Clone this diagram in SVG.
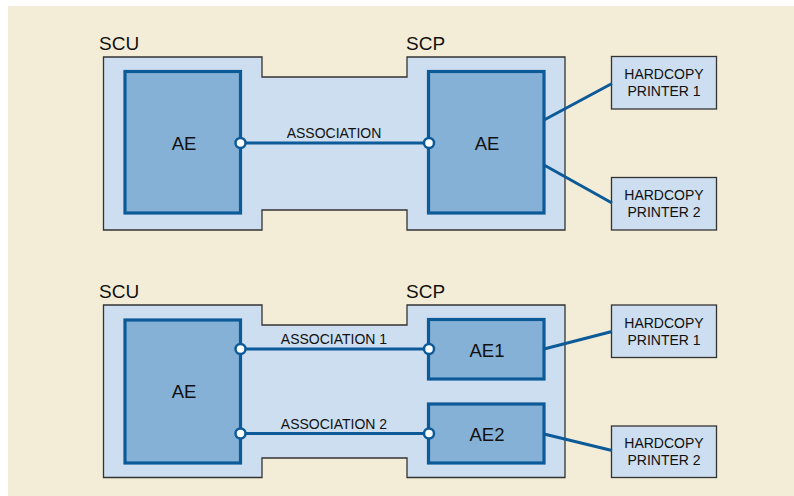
<svg xmlns="http://www.w3.org/2000/svg" width="794" height="496" viewBox="0 0 794 496">
<style>
.bg{fill:#f3edd7}
.cont{fill:#ccdef0;stroke:#333;stroke-width:1.3}
.ae{fill:#85b1d7;stroke:#0d5a99;stroke-width:3.2}
.prn{fill:#ccdef0;stroke:#333;stroke-width:1.3}
.ln{stroke:#0d5a99;stroke-width:3;fill:none}
.port{fill:#fff;stroke:#0d5a99;stroke-width:2.5}
text{font-family:"Liberation Sans",Arial,sans-serif;fill:#111}
.t16{font-size:19px}
.lab{font-size:18.5px;text-anchor:middle}
.small{font-size:14px;text-anchor:middle}
</style>
<rect x="0" y="0" width="794" height="496" fill="#fff"/>
<rect class="bg" x="8" y="6" width="786" height="490"/>
<g id="top-container">
<path class="cont" d="M103.5,57 H262 V77 H407 V57 H565 V230 H407 V210 H262 V230 H103.5 Z"/>
<text class="t16" x="99" y="50">SCU</text>
<text class="t16" x="406" y="50">SCP</text>
</g>
<g id="top-scu-ae">
<rect class="ae" x="125" y="71.5" width="115.5" height="141.5"/>
<text class="lab" x="184" y="149.5">AE</text>
</g>
<g id="top-scp-ae">
<rect class="ae" x="428.5" y="71.5" width="115.5" height="141.5"/>
<text class="lab" x="487" y="149.5">AE</text>
</g>
<g id="top-printer1">
<rect class="prn" x="611.5" y="56.5" width="105" height="52.5"/>
<text class="small" x="664" y="79">HARDCOPY</text>
<text class="small" x="664" y="96">PRINTER 1</text>
</g>
<g id="top-printer2">
<rect class="prn" x="611.5" y="177.5" width="105" height="52.5"/>
<text class="small" x="664" y="199.5">HARDCOPY</text>
<text class="small" x="664" y="216.5">PRINTER 2</text>
</g>
<g id="bottom-container">
<path class="cont" d="M103.5,305 H262 V325 H407 V305 H565 V477.5 H407 V458 H262 V477.5 H103.5 Z"/>
<text class="t16" x="99" y="298">SCU</text>
<text class="t16" x="406" y="298">SCP</text>
</g>
<g id="bottom-scu-ae">
<rect class="ae" x="125" y="320" width="115.5" height="143"/>
<text class="lab" x="184" y="397.5">AE</text>
</g>
<g id="bottom-ae1">
<rect class="ae" x="428.5" y="319.5" width="115.5" height="59.5"/>
<text class="lab" x="487" y="356.5">AE1</text>
</g>
<g id="bottom-ae2">
<rect class="ae" x="428.5" y="404" width="115.5" height="59"/>
<text class="lab" x="487" y="440.5">AE2</text>
</g>
<g id="bottom-printer1">
<rect class="prn" x="611.5" y="305" width="105" height="52.5"/>
<text class="small" x="664" y="327.5">HARDCOPY</text>
<text class="small" x="664" y="344.5">PRINTER 1</text>
</g>
<g id="bottom-printer2">
<rect class="prn" x="611.5" y="426" width="105" height="51.5"/>
<text class="small" x="664" y="447.5">HARDCOPY</text>
<text class="small" x="664" y="464.5">PRINTER 2</text>
</g>
<g id="connectors">
<line class="ln" x1="240" y1="143" x2="429" y2="143"/>
<text class="small" x="334" y="137.5">ASSOCIATION</text>
<line class="ln" x1="544" y1="120" x2="612" y2="83.5"/>
<line class="ln" x1="544" y1="165" x2="612" y2="203"/>
<circle class="port" cx="240.5" cy="143" r="5"/>
<circle class="port" cx="429" cy="143" r="5"/>
<line class="ln" x1="240" y1="349" x2="429" y2="349"/>
<text class="small" x="334" y="343.5">ASSOCIATION 1</text>
<line class="ln" x1="240" y1="433.5" x2="429" y2="433.5"/>
<text class="small" x="334" y="428.5">ASSOCIATION 2</text>
<line class="ln" x1="544" y1="349" x2="612" y2="331.5"/>
<line class="ln" x1="544" y1="434" x2="612" y2="450.5"/>
<circle class="port" cx="240.5" cy="349" r="5"/>
<circle class="port" cx="429" cy="349" r="5"/>
<circle class="port" cx="240.5" cy="433.5" r="5"/>
<circle class="port" cx="429" cy="433.5" r="5"/>
</g>
</svg>
